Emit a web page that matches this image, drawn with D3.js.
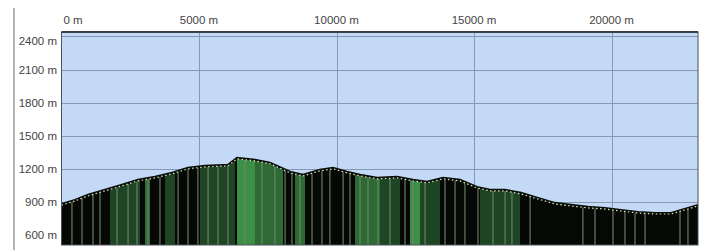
<!DOCTYPE html>
<html>
<head>
<meta charset="utf-8">
<script src="https://cdn.jsdelivr.net/npm/d3@7"></script>
<style>
  body { margin: 0; background: #fff; }
  text { font-family: "Liberation Sans", Arial, sans-serif; font-size: 11.5px; fill: #444; }
</style>
</head>
<body>
<script>
// elevation profile, distance (m) / elevation (m)
const distances = [0, 490, 964, 1582, 2200, 2782, 3400, 4018, 4600, 5218, 6055, 6382, 7036, 7582,
  8309, 8782, 9400, 9873, 10382, 10855, 11473, 12200, 12782, 13291, 13873, 14491, 15109, 15582,
  16127, 16709, 17327, 17945, 18527, 19145, 19764, 20345, 20964, 21582, 22164, 22782, 23145];
const elevations = [880, 918, 964, 1009, 1055, 1100, 1127, 1164, 1209, 1227, 1236, 1300, 1282, 1255,
  1173, 1145, 1191, 1209, 1173, 1145, 1118, 1127, 1100, 1082, 1118, 1100, 1036, 1009,
  1009, 982, 936, 891, 873, 855, 845, 827, 809, 800, 800, 845, 873];

// coloured bands under the profile: start, end (m) and shade (0 black .. 3 bright green)
const bandStart = [1764, 3036, 3764, 5036, 6382, 7036, 8491, 10673, 11582, 12673, 13036, 15218];
const bandEnd   = [2855, 3218, 4127, 6309, 7036, 8054, 8854, 11582, 12309, 13036, 13764, 16673];
const bandShade = [1, 2, 1, 1, 3, 2, 2, 2, 1, 3, 1, 1];

// thin sample marks (m)
const marks = [380, 745, 1145, 1400, 2020, 2420, 2745, 3145, 3580, 4240, 4600, 4960, 5330, 5690,
  6055, 6670, 7290, 7760, 8130, 8380, 8670, 9110, 9470, 9760, 10240, 10490, 10855, 11145, 11510,
  11945, 12490, 12780, 13220, 13945, 14310, 14670, 15145, 15690, 16130, 16380, 17040, 18960,
  19400, 20055, 20490, 20855, 21220, 22490, 22780];

const xTicks = [0, 5000, 10000, 15000, 20000];
const yTicks = [600, 900, 1200, 1500, 1800, 2100, 2400];

const shadeColors = ["#050805", "#1f4624", "#2d6a34", "#3d8f46"];

const W = 708, H = 250;
const plot = {left: 61.5, right: 698, top: 32, bottom: 245};

const x = d3.scaleLinear().domain([0, 23145]).range([plot.left, plot.right]);
const y = d3.scaleLinear().domain([510, 2440]).range([plot.bottom, plot.top]);

const svg = d3.select("body").append("svg")
    .attr("width", W)
    .attr("height", H);

// left panel edge
svg.append("line")
    .attr("x1", 14).attr("x2", 14).attr("y1", 8).attr("y2", H)
    .attr("stroke", "#b4b4b4").attr("stroke-width", 2);

// plot background
svg.append("rect")
    .attr("x", plot.left).attr("y", plot.top)
    .attr("width", plot.right - plot.left).attr("height", plot.bottom - plot.top)
    .attr("fill", "#c3d9f5");

// grid
svg.append("g").selectAll("line")
    .data(yTicks)
  .enter().append("line")
    .attr("x1", plot.left).attr("x2", plot.right)
    .attr("y1", d => Math.round(y(d)) + 0.5).attr("y2", d => Math.round(y(d)) + 0.5)
    .attr("stroke", "#8798b4").attr("stroke-width", 1);

svg.append("g").selectAll("line")
    .data(xTicks.slice(1))
  .enter().append("line")
    .attr("x1", d => Math.round(x(d)) + 0.5).attr("x2", d => Math.round(x(d)) + 0.5)
    .attr("y1", plot.top).attr("y2", plot.bottom)
    .attr("stroke", "#8798b4").attr("stroke-width", 1);

// terrain
const profile = distances.map((d, i) => [d, elevations[i]]);

const area = d3.area()
    .x(d => x(d[0]))
    .y0(plot.bottom)
    .y1(d => y(d[1]));

svg.append("clipPath").attr("id", "terrain")
  .append("path").attr("d", area(profile));

const g = svg.append("g").attr("clip-path", "url(#terrain)");

g.append("rect")
    .attr("x", plot.left).attr("y", plot.top)
    .attr("width", plot.right - plot.left).attr("height", plot.bottom - plot.top)
    .attr("fill", shadeColors[0]);

g.selectAll(".band")
    .data(bandStart.map((s, i) => ({s, e: bandEnd[i], c: bandShade[i]})))
  .enter().append("rect")
    .attr("class", "band")
    .attr("x", d => x(d.s))
    .attr("width", d => x(d.e) - x(d.s))
    .attr("y", plot.top)
    .attr("height", plot.bottom - plot.top)
    .attr("fill", d => shadeColors[d.c]);

g.selectAll(".mark")
    .data(marks)
  .enter().append("line")
    .attr("class", "mark")
    .attr("x1", d => x(d)).attr("x2", d => x(d))
    .attr("y1", plot.top).attr("y2", plot.bottom)
    .attr("stroke", "#74866f").attr("stroke-width", 1.3).attr("opacity", 0.85);

// outline of the profile
const line = d3.line()
    .x(d => x(d[0]))
    .y(d => y(d[1]));

svg.append("path")
    .attr("d", line(profile))
    .attr("fill", "none")
    .attr("stroke", "#0a0f0a")
    .attr("stroke-width", 2.2);

svg.append("path")
    .attr("d", line(profile))
    .attr("transform", "translate(0,1)")
    .attr("fill", "none")
    .attr("stroke", "#dfe9c6")
    .attr("stroke-width", 1.2)
    .attr("stroke-dasharray", "1.5,2.5");

// frame
svg.append("rect")
    .attr("x", plot.left).attr("y", plot.top)
    .attr("width", plot.right - plot.left).attr("height", plot.bottom - plot.top)
    .attr("fill", "none")
    .attr("stroke", "#4a525a").attr("stroke-width", 1);

svg.append("line")
    .attr("x1", plot.left).attr("x2", plot.right)
    .attr("y1", plot.top).attr("y2", plot.top)
    .attr("stroke", "#3a4048").attr("stroke-width", 2);

// axis labels
svg.append("g").selectAll("text")
    .data(xTicks)
  .enter().append("text")
    .attr("x", d => d === 0 ? x(d) + 2 : x(d))
    .attr("y", 24)
    .attr("text-anchor", d => d === 0 ? "start" : "middle")
    .text(d => d + " m");

svg.append("g").selectAll("text")
    .data(yTicks)
  .enter().append("text")
    .attr("x", 57)
    .attr("y", d => Math.max(y(d), 41) + 4)
    .attr("text-anchor", "end")
    .text(d => d + " m");
</script>
</body>
</html>
